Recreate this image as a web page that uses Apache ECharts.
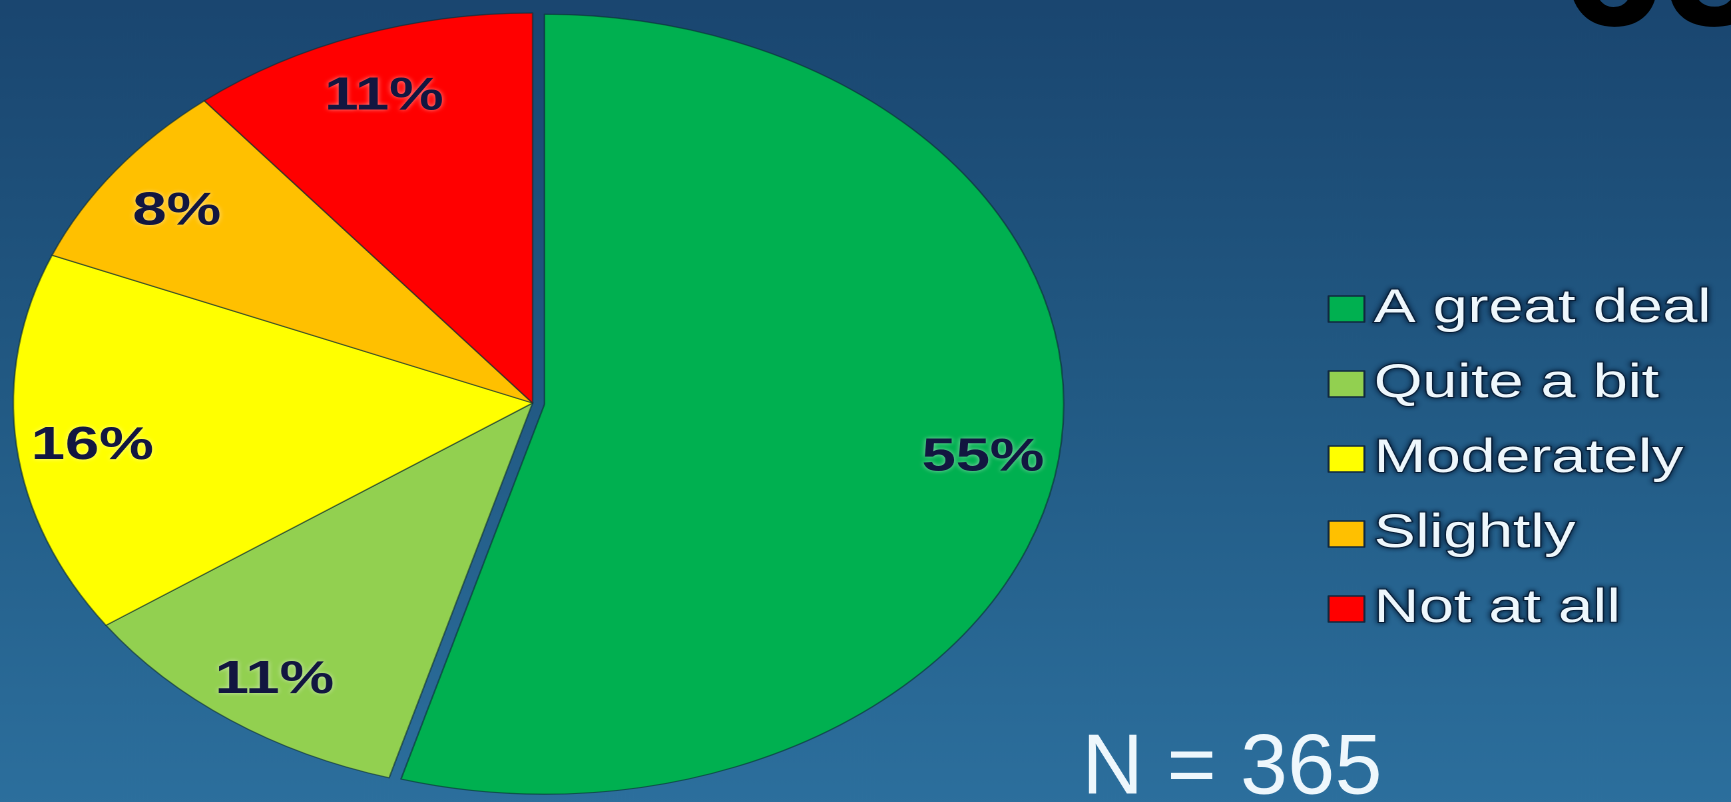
<!DOCTYPE html>
<html>
<head>
<meta charset="utf-8">
<script src="https://cdn.jsdelivr.net/npm/echarts@6/dist/echarts.min.js"></script>
<style>
  html, body { margin: 0; padding: 0; width: 1731px; height: 802px; overflow: hidden;
    background: linear-gradient(#1a4670, #2c6f9d); }
  /* the slide is drawn at 1300px wide and stretched to the full 1731px */
  #chart { width: 1300px; height: 802px; transform: scaleX(1.3315); transform-origin: 0 0; }
</style>
</head>
<body>
<div id="chart"></div>
<script>
// survey answers
const categories = ['A great deal', 'Quite a bit', 'Moderately', 'Slightly', 'Not at all'];
const percents = [55, 11, 16, 8, 11];
const sliceColors = ['#00b050', '#92d050', '#ffff00', '#ffc000', '#ff0000'];
const sampleText = 'N = 365';
const cornerText = '65';

const STRETCH = 1731 / 1300;
const CX = 400, CY = 403, R = 390;
const FONT = '"Liberation Sans", Arial, Helvetica, sans-serif';

const chart = echarts.init(document.getElementById('chart'), null, { renderer: 'canvas', devicePixelRatio: 2 });

chart.setOption({
  animation: false,
  backgroundColor: {
    type: 'linear', x: 0, y: 0, x2: 0, y2: 1,
    colorStops: [
      { offset: 0, color: '#1a4670' },
      { offset: 0.5, color: '#225a84' },
      { offset: 1, color: '#2c6f9d' }
    ]
  },
  color: sliceColors,
  legend: {
    orient: 'vertical',
    left: 992,
    top: 279,
    icon: 'rect',
    itemWidth: 27,
    itemHeight: 26,
    itemGap: 25,
    data: categories,
    itemStyle: { borderColor: '#10283f', borderWidth: 1.5 },
    textStyle: {
      fontFamily: FONT,
      fontSize: 47,
      lineHeight: 50,
      color: '#eef7fc',
      padding: [0, 0, 0, 2],
      textBorderColor: 'rgba(8,30,55,0.9)',
      textBorderWidth: 2,
      textShadowColor: 'rgba(5,25,50,0.95)',
      textShadowBlur: 4
    }
  },
  graphic: [
    {
      type: 'text',
      x: (1088 - 6) / STRETCH,
      y: 770,
      scaleX: 1 / STRETCH,
      style: {
        text: sampleText,
        font: 'normal 85px ' + FONT,
        fill: '#eef7fc',
        textAlign: 'left', textVerticalAlign: 'middle',
        align: 'left', verticalAlign: 'middle',
        shadowColor: 'rgba(5,25,50,0.9)',
        shadowBlur: 5
      }
    },
    {
      type: 'text',
      x: 1561 / STRETCH,
      y: -26,
      scaleX: 1 / STRETCH,
      style: {
        text: cornerText,
        font: 'bold 185px ' + FONT,
        fill: '#000000',
        textAlign: 'left', textVerticalAlign: 'middle',
        align: 'left', verticalAlign: 'middle'
      }
    }
  ],
  series: [{
    type: 'pie',
    center: [CX, CY],
    radius: [0, R],
    startAngle: 90,
    clockwise: true,
    selectedMode: 'single',
    selectedOffset: 9,
    emphasis: { scale: false },
    itemStyle: { borderColor: 'rgba(10,45,50,0.6)', borderWidth: 1.2 },
    label: {
      show: true,
      position: 'inside',
      formatter: '{c}%',
      fontFamily: FONT,
      fontWeight: 'bold',
      fontSize: 46,
      color: '#121640',
      textShadowColor: 'rgba(255,255,255,0.55)',
      textShadowBlur: 4
    },
    labelLine: { show: false },
    // push the inside labels out towards the rim
    labelLayout: function (p) {
      const r = p.labelRect;
      const lx = r.x + r.width / 2, ly = r.y + r.height / 2;
      return { dx: 0.68 * (lx - CX), dy: 0.68 * (ly - CY) + 7 };
    },
    data: categories.map((name, i) => ({ name: name, value: percents[i], selected: i === 0 }))
  }]
});
</script>
</body>
</html>
